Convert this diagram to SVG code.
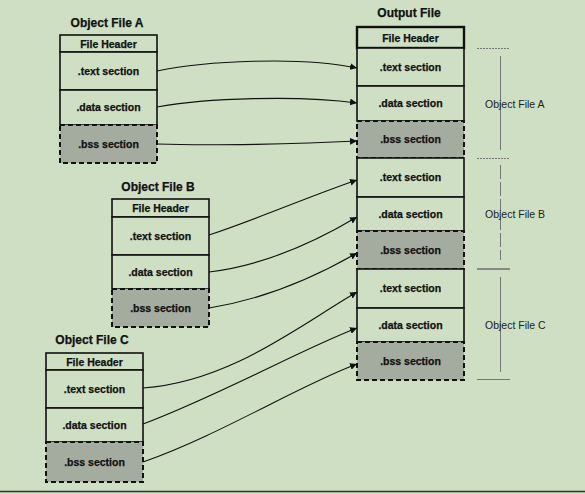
<svg xmlns="http://www.w3.org/2000/svg" width="585" height="494" viewBox="0 0 585 494">
<defs>
<style>
.bg{fill:#cfdfc3}
.sec{fill:#cfdfc3;stroke:#111;stroke-width:1.6}
.hdr{fill:#cfdfc3;stroke:#111;stroke-width:1.6}
.bss{fill:#a4ac9f;stroke:#111;stroke-width:2;stroke-dasharray:5 3}
.lbl{font-family:"Liberation Sans",Arial,sans-serif;font-weight:bold;font-size:10.5px;fill:#111;stroke:#111;stroke-width:0.25;text-anchor:middle}
.ttl{font-family:"Liberation Sans",Arial,sans-serif;font-weight:bold;font-size:12px;fill:#111;stroke:#111;stroke-width:0.25;text-anchor:middle}
.side{font-family:"Liberation Sans",Arial,sans-serif;font-size:10.5px;fill:#222}
.con{fill:none;stroke:#111;stroke-width:1.1;marker-end:url(#ah)}
.br{stroke:#777;stroke-width:1;fill:none}
</style>
<marker id="ah" viewBox="0 0 10 10" refX="10" refY="5" markerWidth="7" markerHeight="7" markerUnits="userSpaceOnUse" orient="auto">
<path d="M0,0 L10,5 L0,10 z" fill="#111"/>
</marker>
</defs>
<rect class="bg" x="0" y="0" width="585" height="494"/>
<line x1="0" y1="491.5" x2="585" y2="491.5" stroke="#333" stroke-width="1.5"/>

<g id="objA">
<text class="ttl" x="107" y="27">Object File A</text>
<rect class="hdr" x="60" y="35" width="97" height="17"/>
<text class="lbl" x="108.5" y="47.5">File Header</text>
<rect class="sec" x="60" y="52" width="97" height="38"/>
<text class="lbl" x="108.5" y="75">.text section</text>
<rect class="sec" x="60" y="90" width="97" height="35"/>
<text class="lbl" x="108.5" y="111">.data section</text>
<rect class="bss" x="60" y="125" width="97" height="38"/>
<text class="lbl" x="108.5" y="148">.bss section</text>
</g>

<g id="objB">
<text class="ttl" x="158" y="191">Object File B</text>
<rect class="hdr" x="112" y="199" width="97" height="18"/>
<text class="lbl" x="160.5" y="212">File Header</text>
<rect class="sec" x="112" y="217" width="97" height="38"/>
<text class="lbl" x="160.5" y="240">.text section</text>
<rect class="sec" x="112" y="255" width="97" height="34"/>
<text class="lbl" x="160.5" y="276">.data section</text>
<rect class="bss" x="112" y="289" width="97" height="38"/>
<text class="lbl" x="160.5" y="312">.bss section</text>
</g>

<g id="objC">
<text class="ttl" x="92" y="344">Object File C</text>
<rect class="hdr" x="46" y="353" width="97" height="17"/>
<text class="lbl" x="94.5" y="365.5">File Header</text>
<rect class="sec" x="46" y="370" width="97" height="38"/>
<text class="lbl" x="94.5" y="393">.text section</text>
<rect class="sec" x="46" y="408" width="97" height="34"/>
<text class="lbl" x="94.5" y="429">.data section</text>
<rect class="bss" x="46" y="442" width="97" height="40"/>
<text class="lbl" x="94.5" y="466">.bss section</text>
</g>

<g id="output">
<text class="ttl" x="409" y="17">Output File</text>
<rect x="357" y="27" width="107" height="21" fill="#cfdfc3" stroke="#111" stroke-width="2.4"/>
<text class="lbl" x="410.5" y="41.5">File Header</text>
<rect class="sec" x="357" y="48" width="107" height="38"/>
<text class="lbl" x="410.5" y="71">.text section</text>
<rect class="sec" x="357" y="86" width="107" height="35"/>
<text class="lbl" x="410.5" y="107">.data section</text>
<rect class="bss" x="357" y="121" width="107" height="37"/>
<text class="lbl" x="410.5" y="143">.bss section</text>
<rect class="sec" x="357" y="158" width="107" height="39"/>
<text class="lbl" x="410.5" y="181">.text section</text>
<rect class="sec" x="357" y="197" width="107" height="34"/>
<text class="lbl" x="410.5" y="218">.data section</text>
<rect class="bss" x="357" y="231" width="107" height="38"/>
<text class="lbl" x="410.5" y="254">.bss section</text>
<rect class="sec" x="357" y="269" width="107" height="39"/>
<text class="lbl" x="410.5" y="292">.text section</text>
<rect class="sec" x="357" y="308" width="107" height="34"/>
<text class="lbl" x="410.5" y="329">.data section</text>
<rect class="bss" x="357" y="342" width="107" height="38"/>
<text class="lbl" x="410.5" y="365">.bss section</text>
</g>

<g id="ranges">
<line class="br" x1="477" y1="48.5" x2="510" y2="48.5" stroke-dasharray="2 1"/>
<line class="br" x1="500.5" y1="56" x2="500.5" y2="150"/>
<text class="side" x="485" y="108">Object File A</text>
<line class="br" x1="477" y1="158.5" x2="510" y2="158.5" stroke-dasharray="2 1"/>
<line class="br" x1="500.5" y1="165" x2="500.5" y2="260" stroke-dasharray="14 3"/>
<text class="side" x="485" y="218">Object File B</text>
<line x1="477" y1="269" x2="510" y2="269" stroke="#888" stroke-width="2"/>
<line class="br" x1="500.5" y1="277" x2="500.5" y2="372"/>
<text class="side" x="485" y="329">Object File C</text>
<line class="br" x1="477" y1="379.5" x2="510" y2="379.5"/>
</g>

<g id="connectors">
<path class="con" d="M157,71 C205,61 300,56 357,68"/>
<path class="con" d="M157,107 C205,98 300,95 357,103"/>
<path class="con" d="M157,144 C210,146 300,144 357,141"/>
<path class="con" d="M209,235 C260,218 310,196 357,180"/>
<path class="con" d="M209,272 C260,266 310,245 357,217"/>
<path class="con" d="M209,308 C260,300 310,280 357,253"/>
<path class="con" d="M143,388 C230,382 300,325 357,292"/>
<path class="con" d="M143,424 C220,395 300,350 357,328"/>
<path class="con" d="M143,462 C220,435 300,385 357,364"/>
</g>
</svg>
